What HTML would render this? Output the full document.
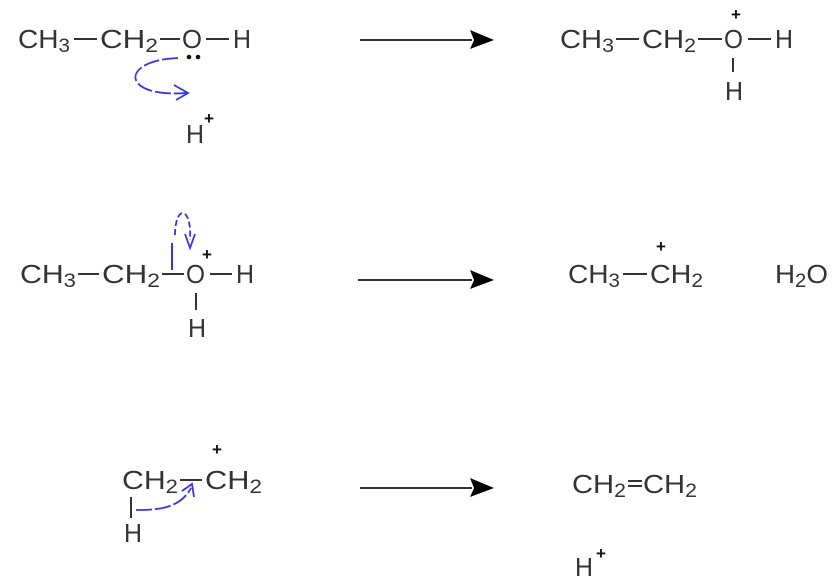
<!DOCTYPE html>
<html><head><meta charset="utf-8"><style>
html,body{margin:0;padding:0;background:#fff;}
svg{display:block;}
text{font-family:"Liberation Sans",sans-serif;font-size:26px;fill:#333;}
.s{font-size:19px;}
.p{font-size:17px;font-weight:bold;fill:#111;}
</style></head><body>
<svg width="840" height="586" viewBox="0 0 840 586" xmlns="http://www.w3.org/2000/svg">
<g stroke="#333" stroke-width="2" fill="none">
<line x1="74" y1="39" x2="97" y2="39"/>
<line x1="160" y1="39" x2="180" y2="39"/>
<line x1="206" y1="39" x2="229" y2="39"/>
<line x1="616" y1="39" x2="639" y2="39"/>
<line x1="698" y1="39" x2="722" y2="39"/>
<line x1="748" y1="39" x2="771" y2="39"/>
<line x1="733" y1="58" x2="733" y2="72"/>
<line x1="78" y1="274" x2="99" y2="274"/>
<line x1="162" y1="274" x2="184" y2="274"/>
<line x1="210" y1="274" x2="232" y2="274"/>
<line x1="196" y1="293" x2="196" y2="310"/>
<line x1="623" y1="274" x2="647" y2="274"/>
<line x1="180" y1="480" x2="202" y2="480"/>
<line x1="131" y1="497" x2="131" y2="518"/>
<line x1="628" y1="481" x2="642" y2="481"/>
<line x1="628" y1="486" x2="642" y2="486"/>
</g>
<g stroke="#333" stroke-width="2">
<line x1="360" y1="40" x2="472" y2="40"/>
<line x1="358" y1="280" x2="472" y2="280"/>
<line x1="360" y1="488" x2="472" y2="488"/>
</g>
<g fill="#000">
<polygon points="470,30 494,40 470,49 474,40"/>
<polygon points="470,270 494,280 470,289 474,280"/>
<polygon points="470,478 494,488 470,497 474,488"/>
</g>
<!-- row1 left -->
<text x="18" y="48" textLength="52" lengthAdjust="spacingAndGlyphs">CH<tspan class="s" dy="4">3</tspan></text>
<text x="100" y="48" textLength="58" lengthAdjust="spacingAndGlyphs">CH<tspan class="s" dy="4">2</tspan></text>
<text x="182" y="48" textLength="20" lengthAdjust="spacingAndGlyphs">O</text>
<text x="233" y="48" textLength="18" lengthAdjust="spacingAndGlyphs">H</text>
<circle cx="189" cy="57" r="2.3" fill="#111"/><circle cx="198" cy="57" r="2.3" fill="#111"/>
<text x="186" y="143" textLength="18" lengthAdjust="spacingAndGlyphs">H</text>
<text class="p" x="204" y="124">+</text>
<path d="M178,58 C120,60 120,98 186,93" stroke="#3333ee" stroke-width="1.8" fill="none" stroke-dasharray="16,3"/>
<path d="M174,85 L188,93 L176,100" stroke="#3333ee" stroke-width="1.8" fill="none"/>
<!-- row1 right -->
<text x="560" y="48" textLength="54" lengthAdjust="spacingAndGlyphs">CH<tspan class="s" dy="4">3</tspan></text>
<text x="642" y="48" textLength="54" lengthAdjust="spacingAndGlyphs">CH<tspan class="s" dy="4">2</tspan></text>
<text x="724" y="48" textLength="19" lengthAdjust="spacingAndGlyphs">O</text>
<text x="775" y="48" textLength="18" lengthAdjust="spacingAndGlyphs">H</text>
<text class="p" x="731" y="20">+</text>
<text x="725" y="100" textLength="18" lengthAdjust="spacingAndGlyphs">H</text>
<!-- row2 left -->
<text x="20" y="283" textLength="56" lengthAdjust="spacingAndGlyphs">CH<tspan class="s" dy="4">3</tspan></text>
<text x="102" y="283" textLength="58" lengthAdjust="spacingAndGlyphs">CH<tspan class="s" dy="4">2</tspan></text>
<text x="186" y="283" textLength="19" lengthAdjust="spacingAndGlyphs">O</text>
<text x="236" y="283" textLength="18" lengthAdjust="spacingAndGlyphs">H</text>
<text class="p" x="202" y="260">+</text>
<text x="188" y="337" textLength="18" lengthAdjust="spacingAndGlyphs">H</text>
<line x1="172" y1="243" x2="172" y2="270" stroke="#3333ee" stroke-width="2"/>
<path d="M175,235 C175,205 192,205 190,240" stroke="#3333ee" stroke-width="1.8" fill="none" stroke-dasharray="6,3"/>
<path d="M185,234 L190,248 L195,234" stroke="#3333ee" stroke-width="1.8" fill="none"/>
<!-- row2 right -->
<text x="568" y="283" textLength="52" lengthAdjust="spacingAndGlyphs">CH<tspan class="s" dy="4">3</tspan></text>
<text x="650" y="283" textLength="53" lengthAdjust="spacingAndGlyphs">CH<tspan class="s" dy="4">2</tspan></text>
<text class="p" x="656" y="252">+</text>
<text x="775" y="283" textLength="53" lengthAdjust="spacingAndGlyphs">H<tspan class="s" dy="4">2</tspan><tspan dy="-4">O</tspan></text>
<!-- row3 left -->
<text x="122" y="489" textLength="56" lengthAdjust="spacingAndGlyphs">CH<tspan class="s" dy="4">2</tspan></text>
<text x="205" y="489" textLength="57" lengthAdjust="spacingAndGlyphs">CH<tspan class="s" dy="4">2</tspan></text>
<text class="p" x="212" y="455">+</text>
<text x="124" y="542" textLength="18" lengthAdjust="spacingAndGlyphs">H</text>
<path d="M136,510 C160,510 180,508 191,488" stroke="#3333ee" stroke-width="1.8" fill="none" stroke-dasharray="16,3"/>
<path d="M182,491 L192,484 L194,497" stroke="#3333ee" stroke-width="1.8" fill="none"/>
<!-- row3 right -->
<text x="572" y="493" textLength="54" lengthAdjust="spacingAndGlyphs">CH<tspan class="s" dy="4">2</tspan></text>
<text x="643" y="493" textLength="54" lengthAdjust="spacingAndGlyphs">CH<tspan class="s" dy="4">2</tspan></text>
<text x="575" y="576" textLength="18" lengthAdjust="spacingAndGlyphs">H</text>
<text class="p" x="596" y="559">+</text>
</svg>
</body></html>
